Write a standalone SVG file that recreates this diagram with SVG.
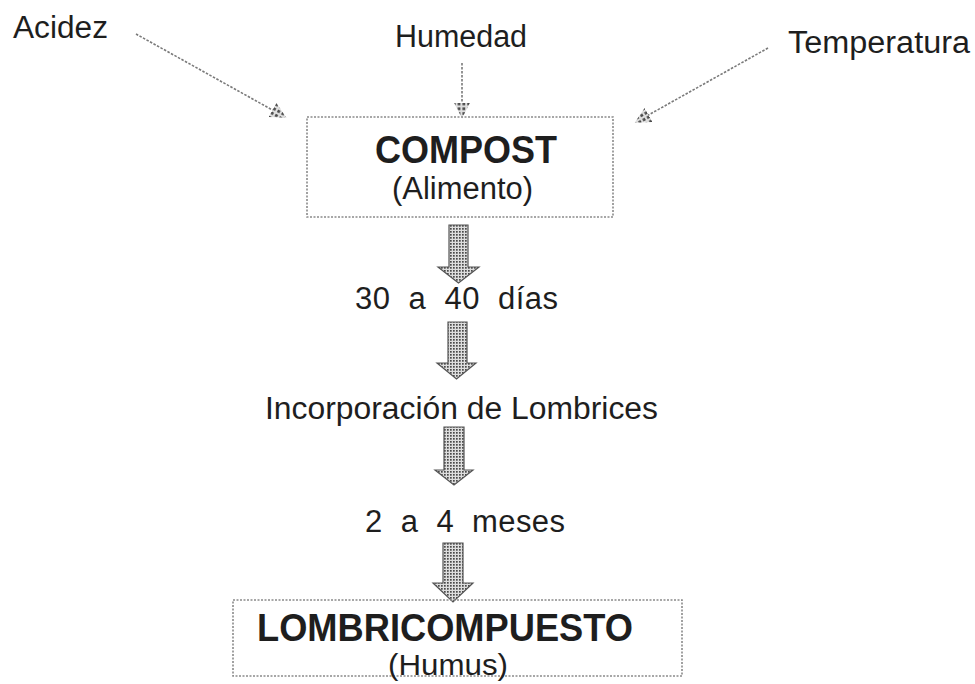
<svg xmlns="http://www.w3.org/2000/svg" width="975" height="684" viewBox="0 0 975 684">
<defs>
<pattern id="chk" width="3" height="3" patternUnits="userSpaceOnUse">
<rect width="3" height="3" fill="#dedede"/>
<rect width="1.7" height="1.7" fill="#4a4a4a"/>
</pattern>
<marker id="dh" viewBox="0 0 10 10" refX="9" refY="5" markerWidth="16" markerHeight="16" orient="auto" markerUnits="userSpaceOnUse">
<path d="M0,0 L10,5 L0,10 Z" fill="url(#chk)"/>
</marker>
<style>
text{font-family:"Liberation Sans",Arial,sans-serif;fill:#1e1e1e}
.lbl{font-size:31px}
.hum{font-size:29px}
.big{font-size:39px;font-weight:bold}
.box{fill:none;stroke:#8a8a8a;stroke-width:1.6;stroke-dasharray:2 1.5}
.dl{fill:none;stroke:#7a7a7a;stroke-width:1.6;stroke-dasharray:2.5 1.5}
.blk{fill:url(#chk);stroke:#555;stroke-width:1.2;stroke-linejoin:miter}
</style>
</defs>
<g id="connectors">
<line class="dl" x1="136" y1="34" x2="285" y2="117" marker-end="url(#dh)"/>
<line class="dl" x1="462" y1="63" x2="462" y2="117" marker-end="url(#dh)"/>
<line class="dl" x1="768" y1="48" x2="636" y2="122" marker-end="url(#dh)"/>
<path class="blk" d="M449,225 H468 V267 H479 L458.5,283 L438,267 H449 Z"/>
<path class="blk" d="M448,322 H467 V363 H476 L456.5,379 L437,363 H448 Z"/>
<path class="blk" d="M444,427 H464 V470 H473 L454,485 L435,470 H444 Z"/>
<path class="blk" d="M443,543 H463 V583 H473 L453,602 L433,583 H443 Z"/>
</g>
<g id="acidez"><text class="lbl" x="13" y="38" textLength="95" lengthAdjust="spacingAndGlyphs">Acidez</text></g>
<g id="humedad"><text class="lbl" x="395" y="47" textLength="132" lengthAdjust="spacingAndGlyphs">Humedad</text></g>
<g id="temperatura"><text class="lbl" x="788" y="53" textLength="182" lengthAdjust="spacingAndGlyphs">Temperatura</text></g>
<g id="compost">
<rect class="box" x="307" y="117" width="306" height="100"/>
<text class="big" x="375" y="163" textLength="182" lengthAdjust="spacingAndGlyphs">COMPOST</text>
<text class="lbl" x="392" y="199" textLength="141" lengthAdjust="spacingAndGlyphs">(Alimento)</text>
</g>
<g id="dias"><text class="lbl" x="355" y="309" textLength="203" xml:space="preserve">30  a  40  días</text></g>
<g id="incorporacion"><text class="lbl" x="265" y="419" textLength="393" lengthAdjust="spacingAndGlyphs">Incorporación de Lombrices</text></g>
<g id="meses"><text class="lbl" x="365" y="532" textLength="200" xml:space="preserve">2  a  4  meses</text></g>
<g id="lombricompuesto">
<rect class="box" x="233" y="600" width="449" height="76"/>
<text class="big" x="257" y="641" textLength="376" lengthAdjust="spacingAndGlyphs">LOMBRICOMPUESTO</text>
<text class="hum" x="388" y="675" textLength="120" lengthAdjust="spacingAndGlyphs">(Humus)</text>
</g>
</svg>
